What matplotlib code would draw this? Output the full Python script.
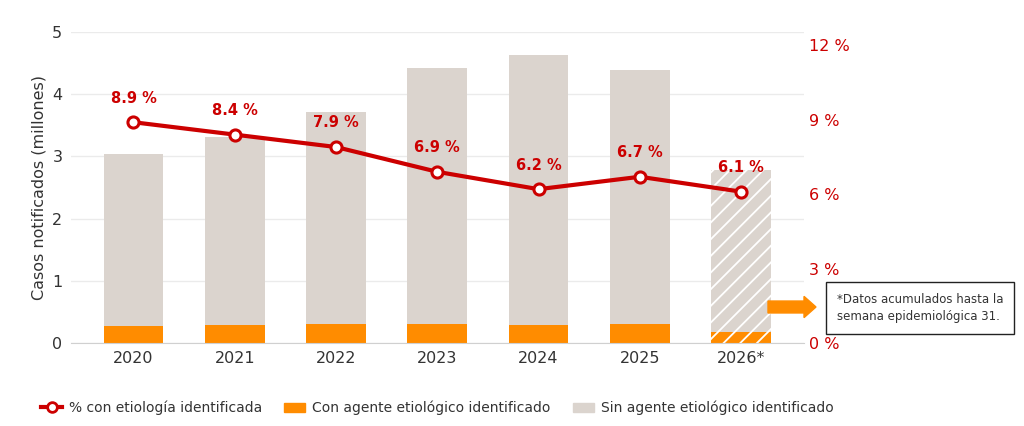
import matplotlib
matplotlib.use('Agg')
import matplotlib.pyplot as plt
from matplotlib.patches import FancyArrow
from matplotlib.lines import Line2D
from matplotlib.patches import Patch

years = ['2020', '2021', '2022', '2023', '2024', '2025', '2026*']
total_cases = [3.04, 3.31, 3.71, 4.42, 4.63, 4.39, 2.78]
with_agent = [0.27, 0.29, 0.31, 0.31, 0.29, 0.31, 0.17]
pct_identified = [8.9, 8.4, 7.9, 6.9, 6.2, 6.7, 6.1]

RED = '#cc0000'
ORANGE = '#ff8c00'
GRAY = '#dbd4ce'
TXT = '#333333'

plt.rcParams['hatch.linewidth'] = 1.3

without_agent = [t - w for t, w in zip(total_cases, with_agent)]
x = list(range(len(years)))

fig = plt.figure(figsize=(10.24, 4.26), dpi=100)
ax = fig.add_axes([0.069, 0.195, 0.716, 0.73])

for i in x:
    partial = years[i].endswith('*')
    hatch = '//' if partial else None
    ax.bar(i, with_agent[i], width=0.59, color=ORANGE, hatch=hatch,
           edgecolor='white' if partial else ORANGE, linewidth=0)
    ax.bar(i, without_agent[i], width=0.59, bottom=with_agent[i], color=GRAY,
           hatch=hatch, edgecolor='white' if partial else GRAY, linewidth=0)

ax.set_xlim(-0.62, 6.62)
ax.set_ylim(0, 5)
ax.set_yticks([0, 1, 2, 3, 4, 5])
ax.set_xticks(x)
ax.set_xticklabels(years)
ax.tick_params(axis='both', length=0, labelsize=11.5, colors=TXT, pad=6)
ax.set_ylabel('Casos notificados (millones)', fontsize=11.5, color=TXT)
ax.grid(axis='y', color='#ebebeb', linewidth=1)
ax.set_axisbelow(True)
for s in ['top', 'right', 'left']:
    ax.spines[s].set_visible(False)
ax.spines['bottom'].set_color('#d0d0d0')

ax2 = ax.twinx()
ax2.set_ylim(0, 12.54)
ax2.set_yticks([0, 3, 6, 9, 12])
ax2.set_yticklabels([f'{v} %' for v in [0, 3, 6, 9, 12]])
ax2.tick_params(axis='y', length=0, labelsize=11.5, colors=RED, pad=4)
for s in ax2.spines.values():
    s.set_visible(False)

ax2.plot(x, pct_identified, color=RED, linewidth=3, marker='o', markersize=8,
         markerfacecolor='white', markeredgecolor=RED, markeredgewidth=2.2, zorder=5)
for i, v in zip(x, pct_identified):
    ax2.annotate(f'{v} %', (i, v), xytext=(0, 12), textcoords='offset points',
                 ha='center', va='bottom', color=RED, fontsize=10.5, fontweight='bold')

# arrow and note box
fig.patches.append(FancyArrow(768 / 1024, 1 - 307 / 426, 36 / 1024, 0,
                              width=0.028, head_width=0.05, head_length=12 / 1024,
                              length_includes_head=False, color=ORANGE,
                              transform=fig.transFigure, figure=fig))
fig.text(0.817, 1 - 308 / 426, '*Datos acumulados hasta la\nsemana epidemiológica 31.',
         fontsize=8.5, color=TXT, va='center', ha='left', linespacing=1.4,
         bbox=dict(boxstyle='square,pad=0.9', facecolor='white', edgecolor='#222222',
                   linewidth=1))

handles = [
    Line2D([0], [0], color=RED, linewidth=3, marker='o', markersize=7,
           markerfacecolor='white', markeredgecolor=RED, markeredgewidth=2),
    Patch(color=ORANGE),
    Patch(color=GRAY),
]
labels = ['% con etiología identificada', 'Con agente etiológico identificado',
          'Sin agente etiológico identificado']
fig.legend(handles, labels, loc='center', bbox_to_anchor=(0.427, 1 - 408 / 426),
           ncol=3, frameon=False, fontsize=10, handlelength=1.5,
           columnspacing=1.6, handletextpad=0.5, labelcolor=TXT)

fig.savefig('out.png', dpi=100)
